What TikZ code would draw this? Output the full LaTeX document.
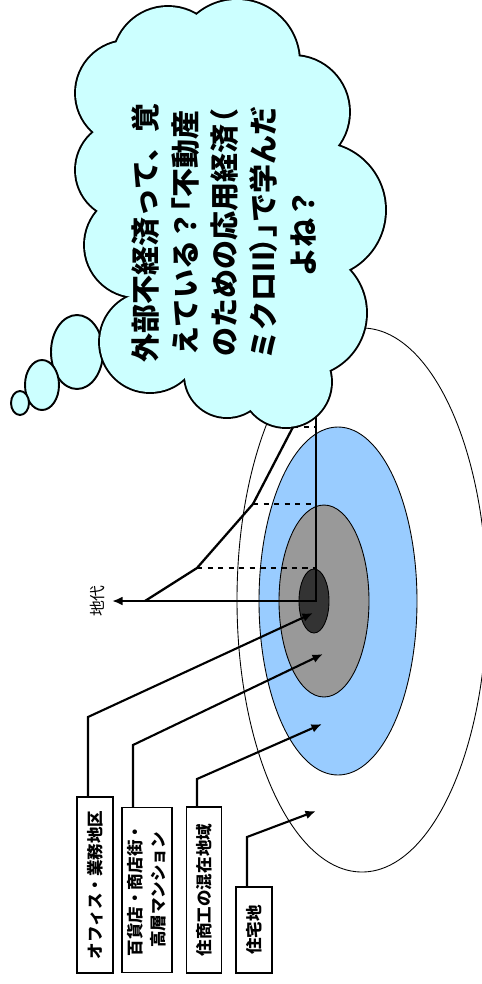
\documentclass[tikz,border=0pt]{standalone}
\usepackage{fontspec}
\newfontfamily\jp{Noto Sans CJK JP}
\newfontfamily\jpp[RawFeature=+palt]{Noto Sans CJK JP}
\usetikzlibrary{arrows.meta}
\definecolor{zoneblue}{HTML}{99CCFF}
\definecolor{zonegray}{HTML}{999999}
\definecolor{zonedark}{HTML}{333333}
\definecolor{bubble}{HTML}{CCFFFF}
\begin{document}
\begin{tikzpicture}[x=0.02cm,y=-0.02cm,
  zone/.style={draw,line width=.5pt},
  lbl/.style={draw,line width=.8pt,rotate=90,inner sep=0pt,align=center,
    font=\jp\bfseries\fontsize{9.4}{13}\selectfont},
  ptr/.style={line width=1.2pt,-{Latex[length=6pt,width=5pt]}},
  puff/.style={draw,line width=1.1pt,fill=bubble}]
  \useasboundingbox (0,0) rectangle (481,984);
  \draw[line width=.5pt] (362,600) ellipse [x radius=125, y radius=272];
  \draw[zone,fill=zoneblue] (338,601) ellipse [x radius=79, y radius=174];
  \draw[zone,fill=zonegray] (324,601) ellipse [x radius=45, y radius=96];
  \draw[zone,fill=zonedark] (314,601) ellipse [x radius=15, y radius=32];
  \coordinate (o) at (316,601); \coordinate (top) at (316,400); \coordinate (xend) at (112,601);
  \coordinate (r0) at (145,601); \coordinate (r1) at (197,568);
  \coordinate (r2) at (253,504); \coordinate (r3) at (293,427); \coordinate (r4) at (310,395);
  \draw[dashed,line width=1pt] (r1) -- (r1 -| o) (r2) -- (r2 -| o) (r3) -- (r3 -| o);
  \draw[line width=1.3pt,-{Latex[length=6pt,width=5pt]}] (top) -- (o) -- (xend)
    node[rotate=90,anchor=south,font=\jp\fontsize{9}{11}\selectfont] (rent) {地代};
  \draw[line width=1.3pt] (r0) -- (r1) -- (r2) -- (r3) -- (r4);
  \node[lbl,minimum width=3.52cm,minimum height=.72cm] (office) at (95,885) {オフィス・業務地区};
  \node[lbl,minimum width=3.3cm,minimum height=1cm] (store) at (147,890) {百貨店・商店街・\\高層マンション};
  \node[lbl,minimum width=3.32cm,minimum height=.7cm] (mixed) at (204,890) {住商工の混在地域};
  \node[lbl,minimum width=1.72cm,minimum height=.72cm] (home) at (254,930) {住宅地};
  \coordinate (k1) at (88,717); \coordinate (t1) at (313,613);
  \coordinate (k2) at (133,745); \coordinate (t2) at (323,654);
  \coordinate (k3) at (197,779); \coordinate (t3) at (322,724);
  \coordinate (k4) at (247,837); \coordinate (t4) at (316,811);
  \draw[ptr] (office.east -| k1) -- (k1) -- (t1);
  \draw[ptr] (store.east -| k2) -- (k2) -- (t2);
  \draw[ptr] (mixed.east -| k3) -- (k3) -- (t3);
  \draw[ptr] (home.east -| k4) -- (k4) -- (t4);
  \draw[puff] (77,352) ellipse [x radius=26, y radius=37];
  \draw[puff] (42,385) ellipse [x radius=17, y radius=25];
  \draw[puff] (20,403) ellipse [x radius=9, y radius=12];
  \foreach \cx/\cy/\r in {168/62/55,237/62/62,293/112/56,318/210/67,303/313/63,286/382/45,
      227/375/42,150/342/50,137/245/52,125/170/49,128/93/52}
    \draw[puff,line width=2.2pt] (\cx,\cy) circle [radius=\r];
  \foreach \cx/\cy/\r in {168/62/55,237/62/62,293/112/56,318/210/67,303/313/63,286/382/45,
      227/375/42,150/342/50,137/245/52,125/170/49,128/93/52}
    \fill[bubble] (\cx,\cy) circle [radius=\r];
  \fill[bubble] (168,62) -- (237,62) -- (293,112) -- (318,210) -- (303,313) -- (286,382)
    -- (227,375) -- (150,342) -- (137,245) -- (125,170) -- (128,93) -- cycle;
  \node[rotate=90,align=center,font=\jp\bfseries\fontsize{16.5}{22.4}\selectfont] (msg) at (224,233)
    {外部不経済って、覚\\えている？{\jpp 「}不動産\\のための応用経済{\jpp （}\\ミクロII{\jpp ）」}で学んだ\\よね？};
\end{tikzpicture}
\end{document}
